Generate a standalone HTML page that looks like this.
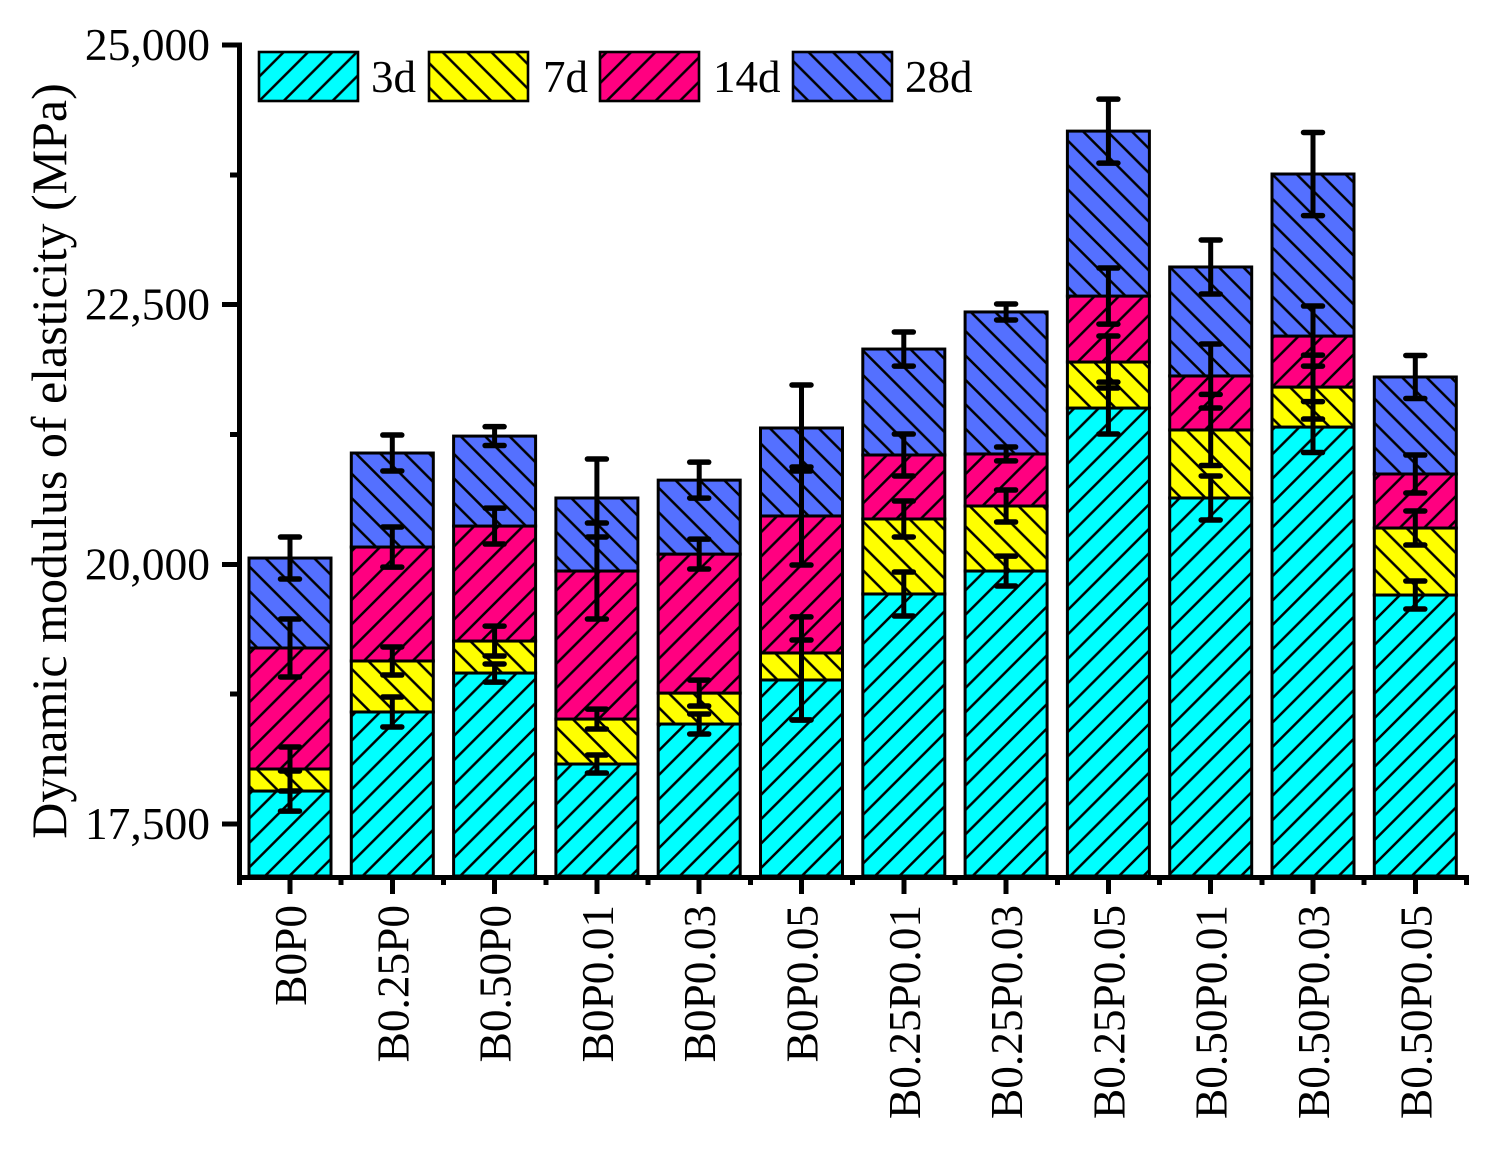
<!DOCTYPE html>
<html>
<head>
<meta charset="utf-8">
<title>Dynamic modulus of elasticity</title>
<style>
  html, body { margin: 0; padding: 0; background: #fff; }
  svg { display: block; font-family: "Liberation Serif", serif; }
  text { fill: #000; }
</style>
</head>
<body>
<svg id="chart" width="1490" height="1149" viewBox="0 0 1490 1149" xmlns="http://www.w3.org/2000/svg">
  <defs>
    <pattern id="hatch-forward-cyan" patternUnits="userSpaceOnUse" width="24.4" height="24.4" patternTransform="translate(-5.8,0)">
      <rect width="24.4" height="24.4" fill="#00ffff"/>
      <path d="M-6.1,6.1 L6.1,-6.1 M0,24.4 L24.4,0 M18.3,30.5 L30.5,18.3" stroke="#000" stroke-width="2.5"/>
    </pattern>
    <pattern id="hatch-back-yellow" patternUnits="userSpaceOnUse" width="24.4" height="24.4">
      <rect width="24.4" height="24.4" fill="#ffff00"/>
      <path d="M-6.1,18.3 L6.1,30.5 M0,0 L24.4,24.4 M18.3,-6.1 L30.5,6.1" stroke="#000" stroke-width="2.5"/>
    </pattern>
    <pattern id="hatch-forward-pink" patternUnits="userSpaceOnUse" width="24.4" height="24.4">
      <rect width="24.4" height="24.4" fill="#ff0080"/>
      <path d="M-6.1,6.1 L6.1,-6.1 M0,24.4 L24.4,0 M18.3,30.5 L30.5,18.3" stroke="#000" stroke-width="2.5"/>
    </pattern>
    <pattern id="hatch-back-blue" patternUnits="userSpaceOnUse" width="24.4" height="24.4">
      <rect width="24.4" height="24.4" fill="#5470ff"/>
      <path d="M-6.1,18.3 L6.1,30.5 M0,0 L24.4,24.4 M18.3,-6.1 L30.5,6.1" stroke="#000" stroke-width="2.5"/>
    </pattern>
  </defs>
  <g id="bars"></g>
  <g id="errors"></g>
  <g id="axes"></g>
  <text transform="translate(66,461) rotate(-90)" text-anchor="middle" font-size="50">Dynamic modulus of elasticity (MPa)</text>
  <g id="legend"></g>
</svg>
<script>
const categories = ["B0P0","B0.25P0","B0.50P0","B0P0.01","B0P0.03","B0P0.05","B0.25P0.01","B0.25P0.03","B0.25P0.05","B0.50P0.01","B0.50P0.03","B0.50P0.05"];
const seriesNames = ["3d","7d","14d","28d"];
const values3d = [17818,18579,18954,18078,18463,18887,19715,19936,21505,20639,21322,19705];
const values7d = [212,491,308,433,298,260,722,626,443,655,385,645];
const values14d = [1165,1097,1107,1425,1338,1319,616,501,635,520,491,520];
const values28d = [866,905,866,703,712,847,1020,1367,1588,1049,1560,934];
const errors3d = [193,144,87,87,96,385,212,144,250,212,245,135];
const errors7d = [212,135,144,96,125,347,173,154,250,342,308,164];
const errors7dLower = [212,135,144,96,125,645,173,154,250,342,308,164];
const errors14d = [279,193,173,462,144,472,202,67,270,308,289,183];
const errors28d = [202,173,91,375,173,414,164,77,308,260,400,207];
const majorTicks = [17500,20000,22500,25000];
const minorTicks = [18750,21250,23750];
const yDomain = [17000,25000];

const NS = "http://www.w3.org/2000/svg";
const seriesValues = [values3d, values7d, values14d, values28d];
const seriesErrorsUpper = [errors3d, errors7d, errors14d, errors28d];
const seriesErrorsLower = [errors3d, errors7dLower, errors14d, errors28d];
const seriesFills = ["url(#hatch-forward-cyan)","url(#hatch-back-yellow)","url(#hatch-forward-pink)","url(#hatch-back-blue)"];
const legendBoxX = [259,429,600,793];
const legendTextX = [371,543,713,905];

const plotTop = 45, plotBottom = 876;
function yScale(v) {
  return plotBottom - (v - yDomain[0]) / (yDomain[1] - yDomain[0]) * (plotBottom - plotTop);
}
const firstX = 290, stepX = 102.3, barWidth = 82;
function xScale(i) {
  return firstX + stepX * i;
}
function make(tag, parent, attrs) {
  const el = document.createElementNS(NS, tag);
  for (const k in attrs) el.setAttribute(k, attrs[k]);
  parent.appendChild(el);
  return el;
}

const barsG = document.getElementById("bars");
const errorsG = document.getElementById("errors");
const axesG = document.getElementById("axes");
const legendG = document.getElementById("legend");

categories.forEach(function (cat, i) {
  let cum = yDomain[0];
  seriesValues.forEach(function (vals, s) {
    const base = s === 0 ? yDomain[0] : cum;
    const top = s === 0 ? vals[i] : cum + vals[i];
    const y1 = yScale(top), y0 = yScale(base);
    const rect = make("rect", barsG, {
      x: xScale(i) - barWidth / 2, y: y1, width: barWidth, height: y0 - y1,
      fill: seriesFills[s], stroke: "#000", "stroke-width": 3
    });
    
    
    cum = top;
  });
});

categories.forEach(function (cat, i) {
  let cum = 0;
  seriesValues.forEach(function (vals, s) {
    cum = s === 0 ? vals[i] : cum + vals[i];
    const yU = yScale(cum + seriesErrorsUpper[s][i]);
    const yL = yScale(cum - seriesErrorsLower[s][i]);
    const x = xScale(i);
    const g = make("g", errorsG, { stroke: "#000", "stroke-linecap": "round", fill: "none" });
    
    
    make("line", g, { x1: x, x2: x, y1: yU, y2: yL, "stroke-width": 5, "stroke-linecap": "butt" });
    make("line", g, { x1: x - 9.5, x2: x + 9.5, y1: yU, y2: yU, "stroke-width": 5.5 });
    make("line", g, { x1: x - 9.5, x2: x + 9.5, y1: yL, y2: yL, "stroke-width": 5.5 });
  });
});

const axisX = 239.5, axisY = 877.5, axisRight = 1467;
const yAxisLine = make("line", axesG, { x1: axisX, x2: axisX, y1: plotTop - 2.5, y2: axisY + 2.5, stroke: "#000", "stroke-width": 5, "shape-rendering": "crispEdges" });


const xAxisLine = make("line", axesG, { x1: axisX - 2.5, x2: axisRight + 2, y1: axisY, y2: axisY, stroke: "#000", "stroke-width": 5, "shape-rendering": "crispEdges" });



majorTicks.forEach(function (v) {
  const y = yScale(v);
  const tick = make("line", axesG, { x1: 222, x2: axisX, y1: y, y2: y, stroke: "#000", "stroke-width": 5, "shape-rendering": "crispEdges" });
  
  
  const label = make("text", axesG, { x: 210, y: y + 15, "text-anchor": "end", "font-size": 45.5 });
  label.textContent = v.toLocaleString("en-US");
  
  
});
minorTicks.forEach(function (v) {
  const y = yScale(v);
  const tick = make("line", axesG, { x1: 230, x2: axisX, y1: y, y2: y, stroke: "#000", "stroke-width": 5, "shape-rendering": "crispEdges" });
  
  
});

categories.forEach(function (cat, i) {
  const x = xScale(i);
  const tick = make("line", axesG, { x1: x, x2: x, y1: axisY, y2: 894, stroke: "#000", "stroke-width": 5, "shape-rendering": "crispEdges" });
  
  
  const label = make("text", axesG, {
    transform: "translate(" + (x + 16) + ",905) rotate(-90)",
    "text-anchor": "end", "font-size": 45.3
  });
  label.textContent = cat;
  
  
});
for (let i = -0.5; i < categories.length; i += 1) {
  const x = i === -0.5 ? axisX : xScale(i);
  const tick = make("line", axesG, { x1: x, x2: x, y1: axisY, y2: 885, stroke: "#000", "stroke-width": 5, "shape-rendering": "crispEdges" });
  
  
}

seriesNames.forEach(function (name, s) {
  const box = make("rect", legendG, {
    x: legendBoxX[s], y: 52, width: 99, height: 49,
    fill: seriesFills[s], stroke: "#000", "stroke-width": 2.6
  });
  
  
  const label = make("text", legendG, { x: legendTextX[s], y: 92, "font-size": 45 });
  label.textContent = name;
  
  
});
</script>
</body>
</html>
